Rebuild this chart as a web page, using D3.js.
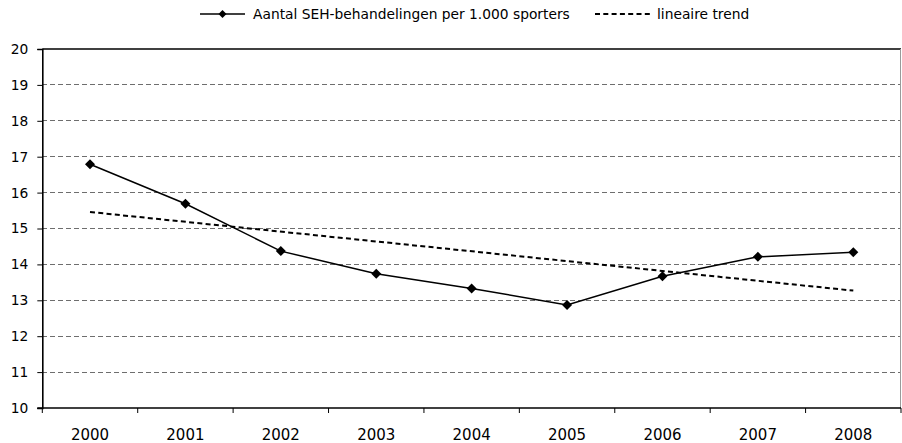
<!DOCTYPE html>
<html>
<head>
<meta charset="utf-8">
<script src="https://cdn.jsdelivr.net/npm/d3@7"></script>
<style>
  html, body { margin: 0; padding: 0; background: #fff; }
  svg { display: block; font-family: "DejaVu Sans", Verdana, sans-serif; }
</style>
</head>
<body>
<svg id="chart" width="902" height="443"></svg>
<script>
// ---- data ----
const years = ["2000", "2001", "2002", "2003", "2004", "2005", "2006", "2007", "2008"];
const seh = [16.79, 15.69, 14.37, 13.74, 13.33, 12.87, 13.67, 14.21, 14.34];
const trendYears = ["2000", "2008"];
const trendValues = [15.46, 13.27];
const yTicks = [10, 11, 12, 13, 14, 15, 16, 17, 18, 19, 20];
const seriesName = "Aantal SEH-behandelingen per 1.000 sporters";
const trendName = "lineaire trend";

// ---- layout ----
const svg = d3.select("#chart");
const mLeft = 42.3, mRight = 901, mTop = 49, mBottom = 408;

const x = d3.scaleBand().domain(years).range([mLeft, mRight]).padding(0);
const y = d3.scaleLinear().domain([10, 20]).range([mBottom, mTop]);

// gridlines
svg.append("g").selectAll("line")
  .data(yTicks.filter(d => d > 10 && d < 20))
  .join("line")
  .attr("x1", mLeft).attr("x2", mRight)
  .attr("y1", d => y(d)).attr("y2", d => y(d))
  .attr("stroke", "#6e6e6e").attr("stroke-width", 1)
  .attr("stroke-dasharray", "5,3")
  .attr("shape-rendering", "crispEdges");

// top border (at 20) and right border
svg.append("line")
  .attr("x1", mLeft).attr("x2", mRight)
  .attr("y1", y(20)).attr("y2", y(20))
  .attr("stroke", "#000").attr("stroke-width", 1.3);
svg.append("line")
  .attr("x1", mRight - 0.5).attr("x2", mRight - 0.5)
  .attr("y1", y(20)).attr("y2", y(10))
  .attr("stroke", "#9a9a9a").attr("stroke-width", 1);

// y axis
const yAxis = d3.axisLeft(y).tickValues(yTicks).tickSize(5).tickPadding(9)
  .tickFormat(d3.format("d"));
const gy = svg.append("g").attr("transform", `translate(${mLeft},0)`).call(yAxis);
gy.select(".domain").attr("stroke", "#000").attr("stroke-width", 1.6);
gy.selectAll(".tick line").attr("stroke", "#000").attr("stroke-width", 1);
gy.selectAll(".tick text").attr("font-size", "13.8px").attr("fill", "#000")
  .attr("font-family", "'DejaVu Sans', Verdana, sans-serif");

// x axis: line, ticks at band boundaries, labels at centers
svg.append("line")
  .attr("x1", mLeft - 5).attr("x2", mRight)
  .attr("y1", mBottom).attr("y2", mBottom)
  .attr("stroke", "#000").attr("stroke-width", 1.6);
const boundaries = years.map(d => x(d)).concat([x.range()[1]]);
svg.append("g").selectAll("line")
  .data(boundaries)
  .join("line")
  .attr("x1", d => d).attr("x2", d => d)
  .attr("y1", mBottom).attr("y2", mBottom + 5)
  .attr("stroke", "#000").attr("stroke-width", 1);
svg.append("g").selectAll("text")
  .data(years)
  .join("text")
  .attr("x", d => x(d) + x.bandwidth() / 2)
  .attr("y", 439.5)
  .attr("text-anchor", "middle")
  .attr("font-size", "15px")
  .attr("fill", "#000")
  .text(d => d);

// trend line
const cx = d => x(d) + x.bandwidth() / 2;
svg.append("path")
  .datum(trendYears.map((d, i) => [d, trendValues[i]]))
  .attr("d", d3.line().x(d => cx(d[0])).y(d => y(d[1])))
  .attr("fill", "none").attr("stroke", "#000").attr("stroke-width", 2)
  .attr("stroke-dasharray", "5,3.3");

// main series
const pts = years.map((d, i) => [d, seh[i]]);
svg.append("path")
  .datum(pts)
  .attr("d", d3.line().x(d => cx(d[0])).y(d => y(d[1])))
  .attr("fill", "none").attr("stroke", "#000").attr("stroke-width", 1.5);
const diamond = d3.symbol().type(d3.symbolSquare).size(50);
svg.append("g").selectAll("path")
  .data(pts)
  .join("path")
  .attr("d", diamond)
  .attr("transform", d => `translate(${cx(d[0])},${y(d[1])}) rotate(45)`)
  .attr("fill", "#000");

// legend
const lg = svg.append("g");
lg.append("line").attr("x1", 200).attr("x2", 245).attr("y1", 14).attr("y2", 14)
  .attr("stroke", "#000").attr("stroke-width", 1.5);
lg.append("path").attr("d", d3.symbol().type(d3.symbolSquare).size(32))
  .attr("transform", "translate(222.5,14) rotate(45)").attr("fill", "#000");
lg.append("text").attr("x", 253).attr("y", 18.8).attr("font-size", "13.8px")
  .attr("fill", "#000").text(seriesName);
lg.append("line").attr("x1", 595).attr("x2", 650).attr("y1", 14).attr("y2", 14)
  .attr("stroke", "#000").attr("stroke-width", 2).attr("stroke-dasharray", "5,3.3");
lg.append("text").attr("x", 657).attr("y", 18.8).attr("font-size", "13.8px")
  .attr("fill", "#000").text(trendName);
</script>
</body>
</html>
